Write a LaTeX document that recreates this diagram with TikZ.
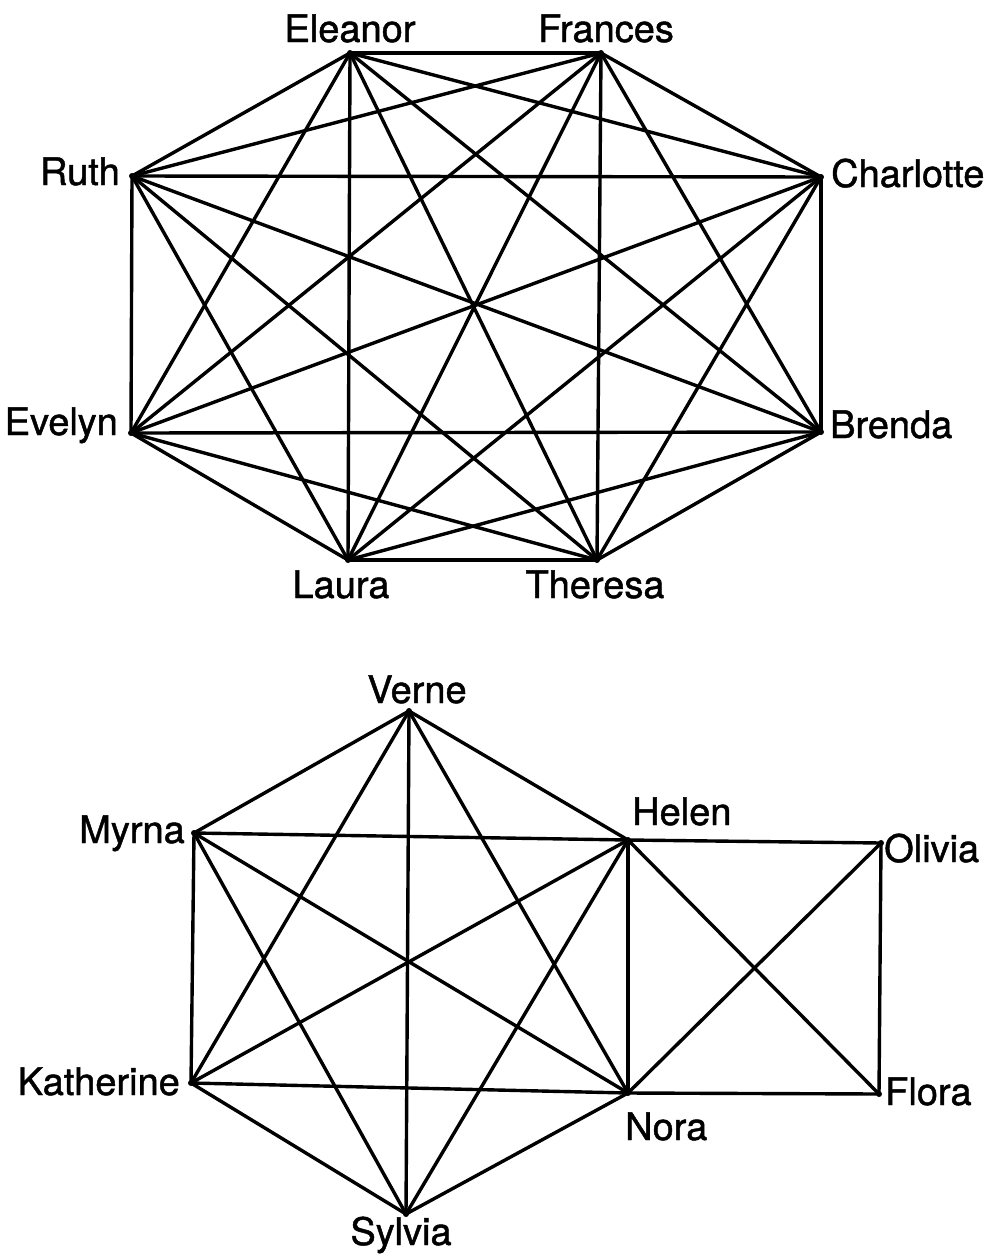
\documentclass[tikz,border=0pt]{standalone}
\usepackage{fontspec}
\setmainfont[FakeBold=1.2]{TeX Gyre Heros}
\begin{document}
\begin{tikzpicture}[x=1pt,y=-1pt,
  vtx/.style={circle,fill=black,inner sep=0pt,minimum size=6pt},
  edge/.style={line width=3.4pt,line cap=round,line join=round},
  lbl/.style={inner sep=0pt,font=\fontsize{38}{44}\selectfont}]
\useasboundingbox (0,0) rectangle (994,1258);
% top graph vertices
\node[vtx] (El) at (350,53) {};
\node[vtx] (Fr) at (601,53) {};
\node[vtx] (Ch) at (821,177) {};
\node[vtx] (Br) at (821,432) {};
\node[vtx] (Th) at (597,560) {};
\node[vtx] (La) at (348,560) {};
\node[vtx] (Ev) at (131,433) {};
\node[vtx] (Ru) at (132,176) {};
\foreach \a/\b in {El/Fr,El/Ch,El/Br,El/Th,El/La,El/Ev,El/Ru,
  Fr/Ch,Fr/Br,Fr/Th,Fr/La,Fr/Ev,Fr/Ru,
  Ch/Br,Ch/Th,Ch/La,Ch/Ev,Ch/Ru,
  Br/Th,Br/La,Br/Ev,Br/Ru,
  Th/La,Th/Ev,Th/Ru,
  La/Ev,La/Ru,
  Ev/Ru}
  \draw[edge] (\a.center) -- (\b.center);
\node[lbl,anchor=base] (lEl) at (350,42) {Eleanor};
\node[lbl,anchor=base] (lFr) at (606,42) {Frances};
\node[lbl,anchor=base west] (lCh) at (831,187) {Charlotte};
\node[lbl,anchor=base west] (lBr) at (830,438) {Brenda};
\node[lbl,anchor=base] (lTh) at (595,598) {Theresa};
\node[lbl,anchor=base] (lLa) at (341,598) {Laura};
\node[lbl,anchor=base east] (lEv) at (118,435) {Evelyn};
\node[lbl,anchor=base east] (lRu) at (120,185) {Ruth};
% bottom graph vertices
\node[vtx] (Ve) at (409,711) {};
\node[vtx] (He) at (628,840) {};
\node[vtx] (No) at (628,1093) {};
\node[vtx] (Sy) at (406,1214) {};
\node[vtx] (Ka) at (191,1083) {};
\node[vtx] (My) at (194,833) {};
\node[vtx] (Ol) at (881,843) {};
\node[vtx] (Fl) at (879,1094) {};
\foreach \a/\b in {Ve/He,Ve/No,Ve/Sy,Ve/Ka,Ve/My,
  He/No,He/Sy,He/Ka,He/My,
  No/Sy,No/Ka,No/My,
  Sy/Ka,Sy/My,
  Ka/My,
  He/Ol,He/Fl,No/Ol,No/Fl,Ol/Fl}
  \draw[edge] (\a.center) -- (\b.center);
\node[lbl,anchor=base] (lVe) at (417,703) {Verne};
\node[lbl,anchor=base west] (lHe) at (632,825) {Helen};
\node[lbl,anchor=base west] (lOl) at (884,862) {Olivia};
\node[lbl,anchor=base west] (lFl) at (885,1105) {Flora};
\node[lbl,anchor=base west] (lNo) at (625,1140) {Nora};
\node[lbl,anchor=base] (lSy) at (401,1245) {Sylvia};
\node[lbl,anchor=base east] (lKa) at (180,1095) {Katherine};
\node[lbl,anchor=base east] (lMy) at (185,843) {Myrna};
\end{tikzpicture}
\end{document}
